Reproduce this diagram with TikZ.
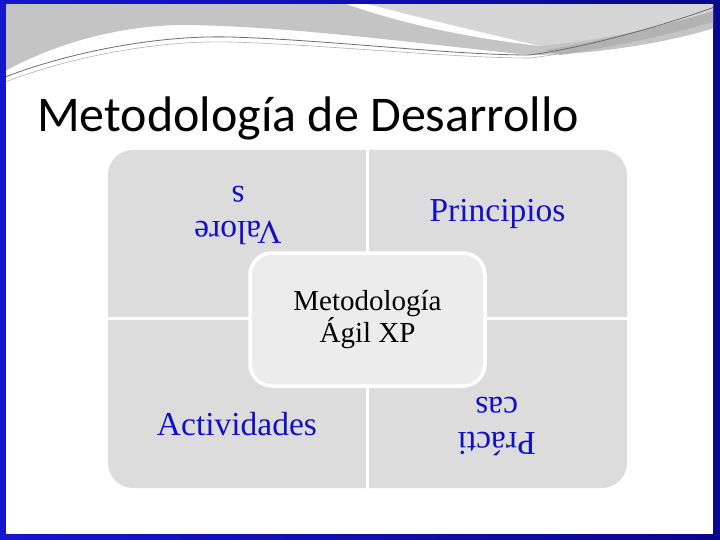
\documentclass[tikz,border=0pt]{standalone}
\usepackage{fontspec}
\setmainfont{Liberation Serif}
\newfontfamily\titlefont{Carlito}
\definecolor{frameL}{RGB}{22,22,205}
\definecolor{frameR}{RGB}{8,8,140}
\definecolor{swmid}{RGB}{196,196,196}
\definecolor{swlight}{RGB}{213,213,213}
\definecolor{swdark}{RGB}{178,178,178}
\definecolor{quadgray}{RGB}{220,220,220}
\definecolor{coregray}{RGB}{236,236,236}
\definecolor{txtblue}{RGB}{16,16,196}
\begin{document}
\begin{tikzpicture}[x=1pt,y=-1pt,
  quadlabel/.style={inner sep=0pt, text=txtblue, align=center, font=\fontsize{33.5}{35}\selectfont},
  corebox/.style={draw=white, line width=3.5pt, fill=coregray, rounded corners=22pt,
     minimum width=235pt, minimum height=133pt, align=center, inner sep=0pt,
     font=\fontsize{29}{29}\selectfont},
  titlestyle/.style={inner sep=0pt, font=\titlefont\fontsize{50}{56}\selectfont}]
\useasboundingbox (0,0) rectangle (720,540);
% frame
\shade[left color=frameL, right color=frameR] (0,0) rectangle (720,540);
\fill[white] (6,5) rectangle (713,534);
% top swoosh
\begin{scope}
\clip (6,5) rectangle (713,534);
\fill[swmid] (0,0) -- (0,74) .. controls (50,45) and (120,24) .. (190,25)
   .. controls (300,27) and (430,45) .. (530,55)
   .. controls (600,55) and (680,40) .. (720,26) -- (720,0) -- cycle;
\fill[swlight] (352,0) .. controls (420,18) and (480,32) .. (540,46)
   .. controls (620,38) and (680,22) .. (720,8) -- (720,0) -- cycle;
\fill[white] (335,0) -- (352,0) .. controls (420,18) and (480,32) .. (540,46)
   .. controls (470,38) and (400,24) .. (335,0) -- cycle;
\fill[swdark] (545,50) .. controls (620,38) and (680,20) .. (720,10)
   -- (720,20) .. controls (680,32) and (620,46) .. (560,55) -- cycle;
\draw[gray!85!black, line width=0.8pt] (0,79) .. controls (60,55) and (150,35) .. (230,37)
   .. controls (330,40) and (450,55) .. (530,55)
   .. controls (600,45) and (680,20) .. (720,5);
\draw[gray!60, line width=0.6pt] (0,84) .. controls (60,60) and (150,40) .. (230,42)
   .. controls (330,45) and (450,58) .. (530,58)
   .. controls (600,50) and (680,25) .. (720,9);
\end{scope}
% title
\node[titlestyle, anchor=base west] (title) at (37,132) {Metodología de Desarrollo};
% matrix
\fill[quadgray, rounded corners=25pt] (108,150) rectangle (627,488);
\draw[white, line width=3.5pt] (367.5,148) -- (367.5,490);
\draw[white, line width=3.5pt] (106,318.5) -- (629,318.5);
% quadrant labels
\node[quadlabel, rotate=180] (valores) at (238,215.6) {Valore\\s};
\node[quadlabel, anchor=base] (principios) at (497.5,222) {Principios};
\node[quadlabel, anchor=base] (actividades) at (237,435) {Actividades};
\node[quadlabel, rotate=180] (practicas) at (496.7,426.6) {Prácti\\cas};
% center
\node[corebox] (core) at (367.5,319.5) {Metodología\\Ágil XP};
\end{tikzpicture}
\end{document}
